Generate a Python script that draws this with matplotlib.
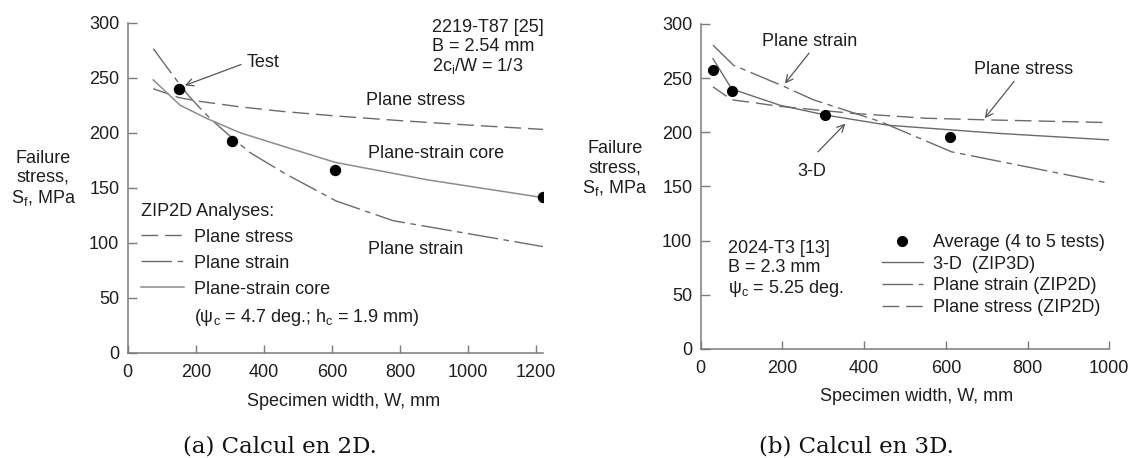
import matplotlib.pyplot as plt
from matplotlib.lines import Line2D

plt.rcParams['font.family'] = ['Liberation Sans', 'DejaVu Sans']
plt.rcParams['mathtext.fontset'] = 'custom'
plt.rcParams['mathtext.rm'] = 'Liberation Sans'
plt.rcParams['mathtext.it'] = 'Liberation Sans:italic'
plt.rcParams['mathtext.bf'] = 'Liberation Sans:bold'

LINE = '#6a6a6a'
CORE = '#8c8c8c'
AXC = '#7a7a7a'
TXT = '#1e1e1e'
FS = 13

# (a) 2219-T87, ZIP2D
test_w_a = [152, 305, 610, 1219]
test_s_a = [239.5, 192.5, 166, 141.5]
stress_w_a = [75, 150, 200, 330, 450, 600, 800, 1000, 1220]
stress_s_a = [240, 232, 229, 223.5, 219.5, 215.5, 211, 207, 203]
strain_w_a = [75, 132, 178, 218, 242, 291, 359, 464, 612, 780, 1220]
strain_s_a = [276.5, 252.5, 234, 220.5, 213, 199.5, 182, 162.5, 138, 120, 96.5]
core_w_a = [75, 154, 232, 330, 464, 610, 884, 1220]
core_s_a = [248, 225, 213, 200, 187, 173, 157, 141]

# (b) 2024-T3, ZIP3D / ZIP2D
test_w_b = [30, 76, 305, 610]
test_s_b = [257.5, 238.5, 216, 196]
zip3d_w_b = [30, 76, 194, 305, 460, 730, 1000]
zip3d_s_b = [268, 240, 225, 216, 206.5, 199, 193]
strain_w_b = [30, 80, 206, 276, 439, 614, 1000]
strain_s_b = [280.5, 262, 242, 230, 210, 182, 153]
stress_w_b = [30, 76, 137, 193, 372, 552, 700, 1000]
stress_s_b = [242, 230, 227, 224, 217.5, 213, 211.5, 209]

y_ticks = [0, 50, 100, 150, 200, 250, 300]
x_ticks_a = [0, 200, 400, 600, 800, 1000, 1200]
x_ticks_b = [0, 200, 400, 600, 800, 1000]

STRESS_DASH = (12, 5)
STRAIN_DASH = (22, 4, 4, 4)
ARROW = dict(arrowstyle='->', color='#555555', lw=0.9, shrinkA=0, shrinkB=0,
             mutation_scale=13)


def style_axes(ax, xmax, xticks):
    ax.set_xlim(0, xmax)
    ax.set_ylim(0, 300)
    ax.set_xticks(xticks)
    ax.set_yticks(y_ticks)
    for s in ('top', 'right'):
        ax.spines[s].set_visible(False)
    for s in ('left', 'bottom'):
        ax.spines[s].set_color(AXC)
        ax.spines[s].set_linewidth(1.1)
    ax.tick_params(axis='both', direction='in', color=AXC, width=1.0,
                   labelsize=FS, labelcolor=TXT)
    ax.tick_params(axis='x', length=6, pad=8)
    ax.tick_params(axis='y', length=6.5, pad=6)
    ax.set_xlabel('Specimen width, W, mm', fontsize=FS, color=TXT)
    ax.xaxis.label.set_va('center')
    ax.set_ylabel('Failure\nstress,\nS$_\\mathrm{f}$, MPa', rotation=0,
                  ha='center', va='center', multialignment='center',
                  linespacing=1.15, fontsize=FS, color=TXT)


fig = plt.figure(figsize=(11.34, 4.58), dpi=100)

# ---- (a)
ax1 = fig.add_axes([0.1126, 0.2299, 0.3662, 0.7205])
style_axes(ax1, 1220, x_ticks_a)
ax1.xaxis.set_label_coords(0.52, -0.148)
ax1.yaxis.set_label_coords(-0.203, 0.526)

h1, = ax1.plot(stress_w_a, stress_s_a, color=LINE, lw=1.0, dashes=STRESS_DASH)
h2, = ax1.plot(strain_w_a, strain_s_a, color=LINE, lw=1.0, dashes=STRAIN_DASH)
h3, = ax1.plot(core_w_a, core_s_a, color=CORE, lw=1.1)
ax1.plot(test_w_a, test_s_a, 'o', color='black', ms=7.2, zorder=5)

blank = Line2D([], [], linestyle='none')
leg1 = ax1.legend([h1, h2, h3, blank],
                  ['Plane stress', 'Plane strain', 'Plane-strain core',
                   '(ψ$_\\mathrm{c}$ = 4.7 deg.; h$_\\mathrm{c}$ = 1.9 mm)'],
                  title='ZIP2D Analyses:', alignment='left', loc='upper left',
                  bbox_to_anchor=(0.032, 0.455), frameon=False, fontsize=FS,
                  title_fontsize=FS, handlelength=2.37, handletextpad=0.58,
                  labelspacing=0.5, borderpad=0, borderaxespad=0)
for t in leg1.get_texts():
    t.set_color(TXT)
leg1.get_title().set_color(TXT)

ax1.text(895, 277.3, '2219-T87 [25]\nB = 2.54 mm\n2c$_\\mathrm{i}$/W = 1/3',
         ha='left', va='center', fontsize=FS, color=TXT, linespacing=1.12)
ax1.text(349, 264, 'Test', ha='left', va='center', fontsize=FS, color=TXT)
ax1.annotate('', xy=(168, 243), xytext=(333, 262), arrowprops=ARROW)
ax1.text(701, 229, 'Plane stress', ha='left', va='center', fontsize=FS, color=TXT)
ax1.text(706, 181, 'Plane-strain core', ha='left', va='center', fontsize=FS, color=TXT)
ax1.text(706, 94, 'Plane strain', ha='left', va='center', fontsize=FS, color=TXT)

# ---- (b)
ax2 = fig.add_axes([0.6179, 0.238, 0.3603, 0.7096])
style_axes(ax2, 1000, x_ticks_b)
ax2.xaxis.set_label_coords(0.529, -0.1455)
ax2.yaxis.set_label_coords(-0.21, 0.553)

g0, = ax2.plot(test_w_b, test_s_b, 'o', color='black', ms=7, zorder=5)
g1, = ax2.plot(zip3d_w_b, zip3d_s_b, color=LINE, lw=1.0)
g2, = ax2.plot(strain_w_b, strain_s_b, color=LINE, lw=1.0, dashes=STRAIN_DASH)
g3, = ax2.plot(stress_w_b, stress_s_b, color=LINE, lw=1.0, dashes=STRESS_DASH)

leg2 = ax2.legend([g0, g1, g2, g3],
                  ['Average (4 to 5 tests)', '3-D  (ZIP3D)',
                   'Plane strain (ZIP2D)', 'Plane stress (ZIP2D)'],
                  loc='upper left', bbox_to_anchor=(0.444, 0.354),
                  frameon=False, fontsize=FS, handlelength=2.24,
                  handletextpad=0.6, labelspacing=0.26, borderpad=0,
                  borderaxespad=0)
for t in leg2.get_texts():
    t.set_color(TXT)

ax2.text(67, 73.5, '2024-T3 [13]\nB = 2.3 mm\nψ$_\\mathrm{c}$ = 5.25 deg.',
         ha='left', va='center', fontsize=FS, color=TXT, linespacing=1.15)
ax2.text(267, 283.7, 'Plane strain', ha='center', va='center', fontsize=FS, color=TXT)
ax2.annotate('', xy=(206, 245), xytext=(265, 273), arrowprops=ARROW)
ax2.text(789, 257.6, 'Plane stress', ha='center', va='center', fontsize=FS, color=TXT)
ax2.annotate('', xy=(695, 213), xytext=(767, 247), arrowprops=ARROW)
ax2.text(273, 164, '3-D', ha='center', va='center', fontsize=FS, color=TXT)
ax2.annotate('', xy=(354, 208), xytext=(287, 182), arrowprops=ARROW)

# captions
fig.text(280 / 1134, 1 - 452 / 458, '(a) Calcul en 2D.', ha='center',
         va='baseline', family='DejaVu Serif', fontsize=16.5, color='#111111')
fig.text(856 / 1134, 1 - 452 / 458, '(b) Calcul en 3D.', ha='center',
         va='baseline', family='DejaVu Serif', fontsize=16.5, color='#111111')

fig.savefig('out.png', dpi=100)
